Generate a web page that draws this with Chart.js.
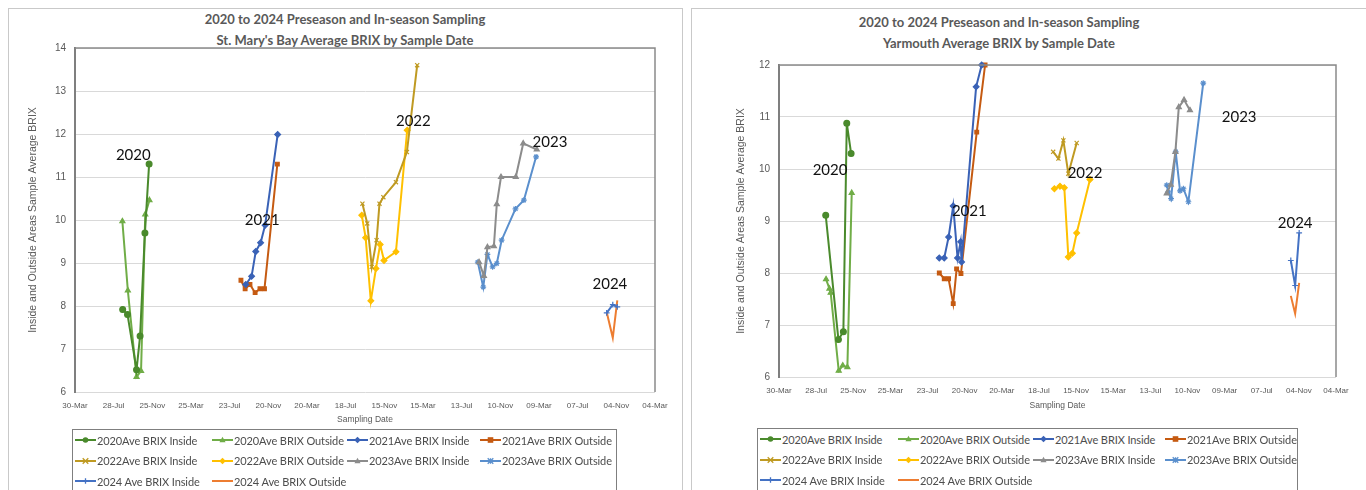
<!DOCTYPE html>
<html>
<head>
<meta charset="utf-8">
<script src="https://cdn.jsdelivr.net/npm/chart.js@4.4.1/dist/chart.umd.min.js"></script>
<style>
  body { margin: 0; width: 1366px; height: 490px; overflow: hidden; background: #fff; font-family: Lato, "Open Sans", sans-serif; }
  .panel { position: absolute; top: 8px; height: 500px; border: 1px solid #c9c9c9; box-sizing: border-box; }
  .title { position: absolute; transform: translateX(-50%); color: #595959; font-weight: bold; font-size: 13px; line-height: 21px; text-align: center; white-space: nowrap; }
  canvas { position: absolute; }
  .legend { position: absolute; border: 1px solid #7f7f7f; box-sizing: border-box; display: grid; grid-auto-rows: 20.5px; align-items: center; }
  .legend .item { display: flex; align-items: center; font-size: 11px; color: #4d4d4d; white-space: nowrap; letter-spacing: -0.1px; }
  .legend canvas { position: static; margin-right: 1px; }
</style>
</head>
<body>
<div class="panel" style="left:8px;width:675px"></div>
<div class="panel" style="left:691px;width:700px"></div>

<div class="title" style="left:345px;top:9px">2020 to 2024 Preseason and In-season Sampling<br>St. Mary's Bay Average BRIX by Sample Date</div>
<div class="title" style="left:999px;top:12px">2020 to 2024 Preseason and In-season Sampling<br>Yarmouth Average BRIX by Sample Date</div>

<canvas id="smbChart" width="672" height="421" style="left:9px;top:9px"></canvas>
<canvas id="yarChart" width="674" height="410" style="left:692px;top:9px"></canvas>

<div id="smbLegend" class="legend" style="left:72px;top:429px;width:545px;height:64px;padding-left:2px;grid-template-columns:137px 135px 133px auto"></div>
<div id="yarLegend" class="legend" style="left:757px;top:428px;width:541px;height:64px;padding-left:2px;grid-template-columns:138px 135px 132px auto"></div>

<script>
// ---------------- data: [sample date, average BRIX] ----------------
// St. Mary's Bay
const smb2020In = [["2020-08-25", 7.92], ["2020-09-09", 7.8], ["2020-10-07", 6.52], ["2020-10-18", 7.3], ["2020-11-02", 9.7], ["2020-11-15", 11.3]];
const smb2020Out = [["2020-08-24", 9.97], ["2020-09-10", 8.36], ["2020-10-07", 6.35], ["2020-10-21", 6.49], ["2020-11-03", 10.13], ["2020-11-16", 10.46]];
const smb2021In = [["2021-09-11", 8.5], ["2021-09-29", 8.69], ["2021-10-12", 9.27], ["2021-10-27", 9.47], ["2021-11-10", 9.88], ["2021-12-19", 11.99]];
const smb2021Out = [["2021-08-27", 8.6], ["2021-09-09", 8.4], ["2021-09-24", 8.5], ["2021-10-10", 8.31], ["2021-10-25", 8.4], ["2021-11-08", 8.4], ["2021-12-18", 11.3]];
const smb2022In = [["2022-09-08", 10.38], ["2022-09-23", 9.92], ["2022-10-07", 8.91], ["2022-10-22", 9.53], ["2022-10-31", 10.38], ["2022-11-12", 10.53], ["2022-12-21", 10.88], ["2023-01-24", 11.58], ["2023-02-25", 13.6]];
const smb2022Out = [["2022-09-06", 10.11], ["2022-09-18", 9.59], ["2022-10-04", 8.12], ["2022-10-20", 8.87], ["2022-11-02", 9.43], ["2022-11-14", 9.06], ["2022-12-21", 9.26], ["2023-01-25", 12.09]];
const smb2023In = [["2023-09-05", 9.02], ["2023-09-20", 8.7], ["2023-10-01", 9.37], ["2023-10-21", 9.39], ["2023-10-30", 10.37], ["2023-11-12", 11.0], ["2023-12-28", 11.0], ["2024-01-20", 11.78], ["2024-03-02", 11.64]];
const smb2023Out = [["2023-09-01", 9.02], ["2023-09-18", 8.44], ["2023-10-01", 9.2], ["2023-10-17", 8.91], ["2023-10-30", 8.99], ["2023-11-14", 9.53], ["2023-12-27", 10.26], ["2024-01-22", 10.46], ["2024-02-29", 11.47]];
const smb2024In = [["2024-10-05", 7.84], ["2024-10-24", 8.03], ["2024-11-07", 7.98]];
const smb2024Out = [["2024-10-05", 7.86], ["2024-10-24", 7.26], ["2024-11-07", 8.13]];

// Yarmouth
const yar2020In = [["2020-08-28", 9.11], ["2020-10-08", 6.72], ["2020-10-24", 6.87], ["2020-11-04", 10.88], ["2020-11-18", 10.3]];
const yar2020Out = [["2020-08-29", 7.88], ["2020-09-09", 7.7], ["2020-09-13", 7.62], ["2020-10-09", 6.12], ["2020-10-22", 6.22], ["2020-11-06", 6.19], ["2020-11-20", 9.54]];
const yar2021In = [["2021-08-30", 8.29], ["2021-09-15", 8.29], ["2021-09-29", 8.69], ["2021-10-14", 9.29], ["2021-10-28", 8.29], ["2021-11-07", 8.6], ["2021-11-10", 8.21], ["2021-12-27", 11.58], ["2022-01-14", 12.0]];
const yar2021Out = [["2021-08-30", 8.0], ["2021-09-15", 7.89], ["2021-09-29", 7.89], ["2021-10-14", 7.41], ["2021-10-25", 8.08], ["2021-11-08", 7.99], ["2021-12-29", 10.71], ["2022-01-25", 12.0]];
const yar2022In = [["2022-09-02", 10.33], ["2022-09-19", 10.2], ["2022-10-05", 10.55], ["2022-10-21", 9.91], ["2022-11-17", 10.5]];
const yar2022Out = [["2022-09-06", 9.62], ["2022-09-24", 9.67], ["2022-10-08", 9.64], ["2022-10-21", 8.31], ["2022-11-03", 8.38], ["2022-11-17", 8.77], ["2022-12-30", 9.8]];
const yar2023In = [["2023-09-04", 9.53], ["2023-09-17", 9.7], ["2023-10-02", 10.33], ["2023-10-13", 11.19], ["2023-10-30", 11.33], ["2023-11-18", 11.13]];
const yar2023Out = [["2023-09-04", 9.69], ["2023-09-09", 9.56], ["2023-09-18", 9.43], ["2023-10-03", 10.33], ["2023-10-17", 9.58], ["2023-10-28", 9.62], ["2023-11-13", 9.37], ["2023-12-31", 11.65]];
const yar2024In = [["2024-10-09", 8.24], ["2024-10-23", 7.76], ["2024-11-05", 8.77]];
const yar2024Out = [["2024-10-09", 7.56], ["2024-10-23", 7.22], ["2024-11-05", 7.81]];

// series names / look, same order in both charts
const seriesNames = ["2020Ave BRIX Inside", "2020Ave BRIX Outside", "2021Ave BRIX Inside", "2021Ave BRIX Outside",
  "2022Ave BRIX Inside", "2022Ave BRIX Outside", "2023Ave BRIX Inside", "2023Ave BRIX Outside",
  "2024 Ave BRIX Inside", "2024 Ave BRIX Outside"];
const seriesColors = ["#4A8A2C", "#70AD47", "#3A62B6", "#C55A11", "#BF9A22", "#FFC000", "#8C8C8C", "#5A8FCD", "#4472C4", "#ED7D31"];
const seriesMarkers = ["circle", "triangle", "rectRot", "rect", "crossRot", "rectRot", "triangle", "star", "cross", null];

// year labels: [text, date, BRIX]
const smbYearLabels = [["2020", "2020-09-27", 11.5], ["2021", "2021-11-01", 10.0], ["2022", "2023-02-13", 12.3], ["2023", "2024-04-12", 11.8], ["2024", "2024-10-15", 8.5]];
const yarYearLabels = [["2020", "2020-09-11", 9.97], ["2021", "2021-12-05", 9.19], ["2022", "2022-12-14", 9.92], ["2023", "2024-04-25", 10.99], ["2024", "2024-10-23", 8.95]];

// x axis: Excel date axis starting 30-Mar-2020, major unit 120 days
const axisStart = Date.UTC(2020, 2, 30);
const axisDays = 1800;
const axisStep = 120;
const yTitle = "Inside and Outside Areas Sample Average BRIX";
//------------------------------------------
const DAY = 86400000;
const MONTHS = ["Jan", "Feb", "Mar", "Apr", "May", "Jun", "Jul", "Aug", "Sep", "Oct", "Nov", "Dec"];

function toDay(s) {
  const p = s.split("-");
  return (Date.UTC(+p[0], +p[1] - 1, +p[2]) - axisStart) / DAY;
}
function dayLabel(v) {
  const d = new Date(axisStart + v * DAY);
  return String(d.getUTCDate()).padStart(2, "0") + "-" + MONTHS[d.getUTCMonth()];
}

function drawMarker(ctx, style, x, y, r) {
  ctx.beginPath();
  switch (style) {
    case "circle":
      ctx.arc(x, y, r, 0, Math.PI * 2); ctx.fill(); break;
    case "triangle":
      ctx.moveTo(x, y - r * 1.2); ctx.lineTo(x + r * 1.1, y + r * 0.8); ctx.lineTo(x - r * 1.1, y + r * 0.8);
      ctx.closePath(); ctx.fill(); break;
    case "rect":
      ctx.fillRect(x - r, y - r, r * 2, r * 2); break;
    case "rectRot":
      ctx.moveTo(x, y - r * 1.2); ctx.lineTo(x + r * 1.2, y); ctx.lineTo(x, y + r * 1.2); ctx.lineTo(x - r * 1.2, y);
      ctx.closePath(); ctx.fill(); break;
    case "cross":
      ctx.moveTo(x - r, y); ctx.lineTo(x + r, y); ctx.moveTo(x, y - r); ctx.lineTo(x, y + r); ctx.stroke(); break;
    case "crossRot":
      ctx.moveTo(x - r, y - r); ctx.lineTo(x + r, y + r); ctx.moveTo(x - r, y + r); ctx.lineTo(x + r, y - r); ctx.stroke(); break;
    case "star":
      ctx.moveTo(x - r, y - r); ctx.lineTo(x + r, y + r); ctx.moveTo(x - r, y + r); ctx.lineTo(x + r, y - r);
      ctx.moveTo(x, y - r); ctx.lineTo(x, y + r); ctx.stroke(); break;
  }
}

function buildLegend(id) {
  const box = document.getElementById(id);
  seriesNames.forEach((name, i) => {
    const item = document.createElement("div");
    item.className = "item";
    const c = document.createElement("canvas");
    c.width = 21; c.height = 10;
    const g = c.getContext("2d");
    g.strokeStyle = seriesColors[i]; g.fillStyle = seriesColors[i];
    g.lineWidth = 2;
    g.beginPath(); g.moveTo(0, 5); g.lineTo(21, 5); g.stroke();
    g.lineWidth = 1.3;
    if (seriesMarkers[i]) drawMarker(g, seriesMarkers[i], 10.5, 5, 2.8);
    item.appendChild(c);
    item.appendChild(document.createTextNode(name));
    box.appendChild(item);
  });
}

const yearTextPlugin = {
  id: "yearText",
  afterDatasetsDraw(chart, args, opts) {
    const { ctx, scales } = chart;
    ctx.save();
    ctx.font = "15px Lato, 'Open Sans', sans-serif";
    ctx.fillStyle = "#111";
    ctx.textAlign = "center";
    ctx.textBaseline = "middle";
    opts.labels.forEach((l) => {
      ctx.fillText(l[0], scales.x.getPixelForValue(toDay(l[1])), scales.y.getPixelForValue(l[2]));
    });
    ctx.restore();
  },
};

const plotFramePlugin = {
  id: "plotFrame",
  afterDraw(chart) {
    const { ctx, chartArea: a } = chart;
    ctx.save();
    ctx.strokeStyle = "#8a8a8a";
    ctx.lineWidth = 1.5;
    ctx.beginPath();
    ctx.moveTo(a.left, a.top); ctx.lineTo(a.right, a.top); ctx.lineTo(a.right, a.bottom);
    ctx.stroke();
    ctx.restore();
  },
};

//--------------------------------------
const drawChart = (id, series, yMax, yearLabels, layout) => {
  const datasets = series.map((pts, i) => ({
    label: seriesNames[i],
    data: pts.map((p) => ({ x: toDay(p[0]), y: p[1] })),
    borderColor: seriesColors[i],
    backgroundColor: seriesColors[i],
    pointBackgroundColor: seriesColors[i],
    pointBorderColor: seriesColors[i],
    borderWidth: 2,
    pointStyle: seriesMarkers[i] || "circle",
    pointRadius: seriesMarkers[i] ? (seriesMarkers[i] === "rect" ? 2.6 : 2.9) : 0,
    pointBorderWidth: 1.2,
    clip: 6,
  }));

  return new Chart(document.getElementById(id), {
    type: "line",
    data: { datasets },
    options: {
      responsive: false,
      animation: false,
      devicePixelRatio: 1,
      layout: { padding: { left: layout.left, top: layout.top, right: layout.right, bottom: 0 } },
      plugins: {
        legend: { display: false },
        tooltip: { enabled: false },
        yearText: { labels: yearLabels },
      },
      scales: {
        x: {
          type: "linear",
          min: 0,
          max: axisDays,
          afterBuildTicks: (scale) => {
            const t = [];
            for (let v = 0; v <= axisDays; v += axisStep) t.push({ value: v });
            scale.ticks = t;
          },
          afterFit: (scale) => { scale.height = layout.xHeight; },
          grid: { display: false, drawTicks: false },
          border: { display: false },
          ticks: { callback: (v) => dayLabel(v), color: "#595959", font: { size: 8 }, padding: layout.xPad, maxRotation: 0, autoSkip: false },
          title: { display: true, text: "Sampling Date", color: "#595959", font: { size: 8.5 }, padding: { top: 0, bottom: layout.xTitlePad } },
        },
        y: {
          min: 6,
          max: yMax,
          afterFit: (scale) => { scale.width = layout.yWidth; },
          ticks: { stepSize: 1, color: "#595959", font: { size: 10 }, padding: 9 },
          grid: { color: "#d9d9d9", lineWidth: 1, drawTicks: false },
          border: { display: true, color: "#7f7f7f", width: 2 },
          title: { display: true, text: yTitle, color: "#595959", font: { size: 10.5 }, padding: { top: 0, bottom: 4 } },
        },
      },
    },
    plugins: [yearTextPlugin, plotFramePlugin],
  });
};

////////////////////////////////////////////
drawChart("smbChart",
  [smb2020In, smb2020Out, smb2021In, smb2021Out, smb2022In, smb2022Out, smb2023In, smb2023Out, smb2024In, smb2024Out],
  14, smbYearLabels,
  { left: 18, top: 39, right: 26, yWidth: 48, xHeight: 38, xPad: 9, xTitlePad: 5 });

drawChart("yarChart",
  [yar2020In, yar2020Out, yar2021In, yar2021Out, yar2022In, yar2022Out, yar2023In, yar2023Out, yar2024In, yar2024Out],
  12, yarYearLabels,
  { left: 43, top: 56, right: 30, yWidth: 44, xHeight: 42, xPad: 9, xTitlePad: 8 });

buildLegend("smbLegend");
buildLegend("yarLegend");
</script>
</body>
</html>
